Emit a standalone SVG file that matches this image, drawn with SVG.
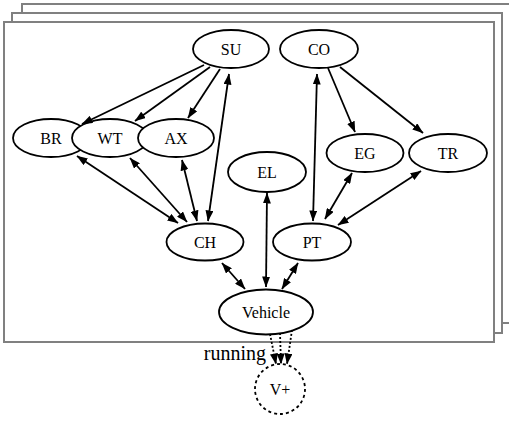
<svg xmlns="http://www.w3.org/2000/svg" width="509" height="422" viewBox="0 0 509 422">
<style>
.frame{fill:#fff;stroke:#808080;stroke-width:2}
.node ellipse,.node circle{fill:#fff;stroke:#000;stroke-width:1.8}
.node text{font-family:"Liberation Serif","Times New Roman",serif;font-size:16px;text-anchor:middle;fill:#000}
.e{stroke:#000;stroke-width:1.8;fill:none}
.bi{marker-start:url(#ah);marker-end:url(#ah)}
.uni{marker-end:url(#ah)}
.dot{stroke-dasharray:2,2}
.lbl{font-family:"Liberation Serif","Times New Roman",serif;font-size:20px;text-anchor:end;fill:#000}
</style>
<defs>
<marker id="ah" markerUnits="userSpaceOnUse" markerWidth="11" markerHeight="8" refX="10.5" refY="4" orient="auto-start-reverse" viewBox="0 0 11 8">
<path d="M0,0 L11,4 L0,8 z" fill="#000"/>
</marker>
</defs>
<g id="frames">
<rect class="frame" x="22" y="4" width="500" height="319"/>
<rect class="frame" x="12" y="13" width="490" height="320"/>
<rect class="frame" x="4" y="22" width="490" height="320"/>
</g>
<g id="nodes">
<g id="SU" class="node"><ellipse cx="231" cy="49" rx="38" ry="19"/><text x="231" y="54.5">SU</text></g>
<g id="CO" class="node"><ellipse cx="319" cy="49" rx="39" ry="19"/><text x="319" y="54.5">CO</text></g>
<g id="BR" class="node"><ellipse cx="51" cy="138" rx="38" ry="19"/><text x="51" y="143.5">BR</text></g>
<g id="WT" class="node"><ellipse cx="110" cy="138" rx="38" ry="19"/><text x="110" y="143.5">WT</text></g>
<g id="AX" class="node"><ellipse cx="176" cy="138" rx="38" ry="19"/><text x="176" y="143.5">AX</text></g>
<g id="EL" class="node"><ellipse cx="267" cy="172" rx="39" ry="20"/><text x="267" y="177.5">EL</text></g>
<g id="EG" class="node"><ellipse cx="365" cy="153" rx="38.5" ry="19"/><text x="365" y="158.5">EG</text></g>
<g id="TR" class="node"><ellipse cx="448" cy="153" rx="39" ry="19"/><text x="448" y="158.5">TR</text></g>
<g id="CH" class="node"><ellipse cx="205" cy="242" rx="38.5" ry="18.5"/><text x="205" y="247.5">CH</text></g>
<g id="PT" class="node"><ellipse cx="312" cy="242" rx="39" ry="18.5"/><text x="312" y="247.5">PT</text></g>
<g id="Vehicle" class="node"><ellipse cx="266" cy="312" rx="47" ry="22.5"/><text x="266" y="317.5">Vehicle</text></g>
<g id="Vplus" class="node"><circle cx="280" cy="389" r="25" stroke-dasharray="3,3"/><text x="280" y="394.5">V+</text></g>
</g>
<g id="connectors">
<line class="e uni" x1="204" y1="65" x2="82" y2="124"/>
<line class="e uni" x1="210" y1="67" x2="135" y2="121"/>
<line class="e uni" x1="220" y1="69" x2="188" y2="118"/>
<line class="e bi" x1="208" y1="221" x2="229" y2="74"/>
<line class="e bi" x1="313" y1="221" x2="317" y2="74"/>
<line class="e uni" x1="328" y1="68" x2="355" y2="132"/>
<line class="e uni" x1="340" y1="67" x2="423" y2="133"/>
<line class="e bi" x1="77" y1="156" x2="178" y2="223"/>
<line class="e bi" x1="130" y1="158" x2="187" y2="222"/>
<line class="e bi" x1="182" y1="160" x2="197" y2="221"/>
<line class="e bi" x1="352" y1="173" x2="325" y2="219"/>
<line class="e bi" x1="421" y1="171" x2="338" y2="225"/>
<line class="e bi" x1="222" y1="263" x2="245" y2="289"/>
<line class="e bi" x1="267" y1="193" x2="266" y2="287"/>
<line class="e bi" x1="298" y1="263" x2="282" y2="289"/>
<line class="e uni dot" x1="270" y1="334" x2="276" y2="364"/>
<line class="e uni dot" x1="280" y1="333" x2="281" y2="364"/>
<line class="e uni dot" x1="292" y1="330" x2="287" y2="364"/>
<text class="lbl" x="266" y="360">running</text>
</g>
</svg>
